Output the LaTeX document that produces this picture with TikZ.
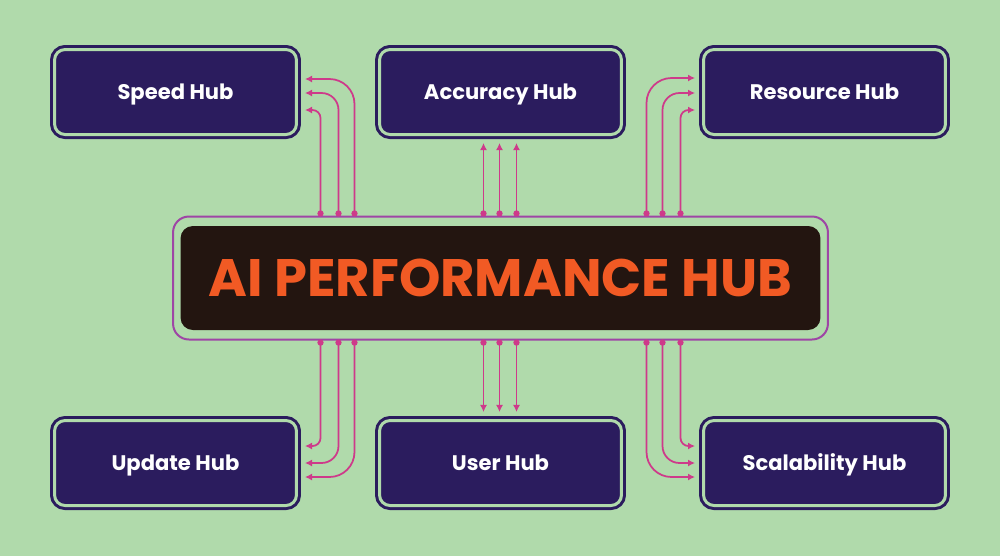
\documentclass[tikz,border=0pt]{standalone}
\usepackage{fontspec}
\setsansfont{Poppins}
\usepackage{tikz}
\usetikzlibrary{arrows.meta,positioning,calc}
\definecolor{bggreen}{RGB}{176,218,171}
\definecolor{hubnavy}{RGB}{43,28,94}
\definecolor{hubdark}{RGB}{35,21,16}
\definecolor{hubtitle}{RGB}{241,90,36}
\definecolor{linkcol}{RGB}{206,58,138}
\definecolor{framecol}{RGB}{158,70,165}

\begin{document}
\begin{tikzpicture}[x=0.02cm, y=-0.02cm,
  every node/.style={font=\sffamily\bfseries},
  hub/.style={rounded corners=6pt, draw=hubnavy, double=bggreen, double distance=0.06cm, line width=0.06cm, fill=hubnavy, outer sep=0pt, minimum width=4.84cm, minimum height=1.7cm, text height=8.4pt, text depth=0pt, text=white, font=\sffamily\bfseries\fontsize{12}{14}\selectfont},
  core/.style={rounded corners=7pt, fill=hubdark, minimum width=12.8cm, minimum height=2.08cm, text height=21pt, text depth=0pt, text=hubtitle, font=\sffamily\bfseries\fontsize{30}{34}\selectfont},
  frame/.style={rounded corners=9pt, draw=framecol, line width=0.04cm, outer sep=0pt, minimum width=13.1cm, minimum height=2.46cm},
  link/.style={{Circle[length=3.5pt]}-{Latex[length=4pt,width=4pt]}, linkcol, line width=1pt},
]
\useasboundingbox[fill=bggreen] (0,0) rectangle (1000,556);

% outer hubs
\node[hub] (spd) at (175.5,92) {Speed Hub};
\node[hub] (acc) at (500.5,92) {Accuracy Hub};
\node[hub] (res) at (824.5,92) {Resource Hub};
\node[hub] (upd) at (175.5,463) {Update Hub};
\node[hub] (usr) at (500.5,463) {User Hub};
\node[hub] (scl) at (824.5,463) {Scalability Hub};

% central hub
\node[frame] (frame) at (500.5,278) {};
\node[core] (core) at (500.5,278) {AI PERFORMANCE HUB};

% top links
\draw[link, rounded corners=0.16cm] ($(frame.north)+(-180,0)$) |- ($(spd.east)+(8.5,18)$);
\draw[link, rounded corners=0.34cm] ($(frame.north)+(-162,0)$) |- ($(spd.east)+(8.5,1)$);
\draw[link, rounded corners=0.5cm] ($(frame.north)+(-146,0)$) |- ($(spd.east)+(8.5,-13)$);
\draw[link] ($(frame.north)+(-17,0)$) -- ($(acc.south)+(-17,8.5)$);
\draw[link] ($(frame.north)+(-1,0)$) -- ($(acc.south)+(-1,8.5)$);
\draw[link] ($(frame.north)+(16,0)$) -- ($(acc.south)+(16,8.5)$);
\draw[link, rounded corners=0.5cm] ($(frame.north)+(146,0)$) |- ($(res.west)+(-8.5,-14)$);
\draw[link, rounded corners=0.34cm] ($(frame.north)+(162,0)$) |- ($(res.west)+(-8.5,1)$);
\draw[link, rounded corners=0.16cm] ($(frame.north)+(180,0)$) |- ($(res.west)+(-8.5,18)$);

% bottom links
\draw[link, rounded corners=0.16cm] ($(frame.south)+(-180,0)$) |- ($(upd.east)+(8.5,-17)$);
\draw[link, rounded corners=0.34cm] ($(frame.south)+(-162,0)$) |- ($(upd.east)+(8.5,0)$);
\draw[link, rounded corners=0.5cm] ($(frame.south)+(-146,0)$) |- ($(upd.east)+(8.5,14)$);
\draw[link] ($(frame.south)+(-17,0)$) -- ($(usr.north)+(-17,-8.5)$);
\draw[link] ($(frame.south)+(-1,0)$) -- ($(usr.north)+(-1,-8.5)$);
\draw[link] ($(frame.south)+(16,0)$) -- ($(usr.north)+(16,-8.5)$);
\draw[link, rounded corners=0.5cm] ($(frame.south)+(146,0)$) |- ($(scl.west)+(-8.5,14)$);
\draw[link, rounded corners=0.34cm] ($(frame.south)+(162,0)$) |- ($(scl.west)+(-8.5,0)$);
\draw[link, rounded corners=0.16cm] ($(frame.south)+(180,0)$) |- ($(scl.west)+(-8.5,-17)$);
\end{tikzpicture}
\end{document}
